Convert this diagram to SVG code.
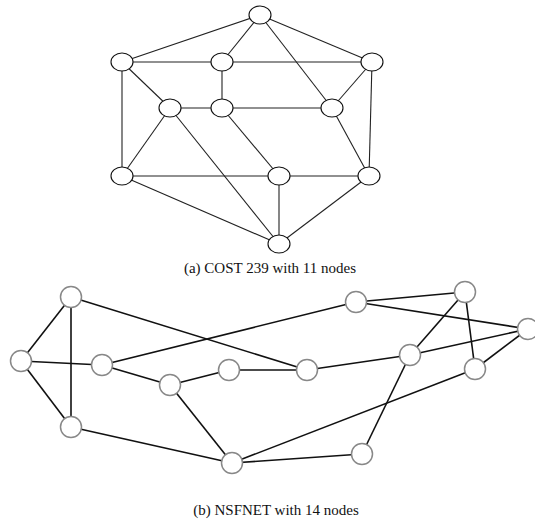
<svg xmlns="http://www.w3.org/2000/svg" width="535" height="523" viewBox="0 0 535 523">
<style>
.ea{stroke:#222;stroke-width:1.1;fill:none}
.na{fill:#fff;stroke:#111;stroke-width:1.1}
.eb{stroke:#111;stroke-width:1.6;fill:none}
.nb{fill:#fff;stroke:#888;stroke-width:1.5}
.cap{font-family:"Liberation Serif","Times New Roman",serif;font-size:15px;fill:#111;text-anchor:middle}
</style>
<rect width="535" height="523" fill="#fff"/>
<g id="edges-a">
<line class="ea" x1="260" y1="15" x2="122" y2="62"/>
<line class="ea" x1="260" y1="15" x2="222" y2="62"/>
<line class="ea" x1="260" y1="15" x2="372" y2="62"/>
<line class="ea" x1="260" y1="15" x2="332" y2="108"/>
<line class="ea" x1="122" y1="62" x2="222" y2="62"/>
<line class="ea" x1="222" y1="62" x2="372" y2="62"/>
<line class="ea" x1="122" y1="62" x2="170" y2="108"/>
<line class="ea" x1="122" y1="62" x2="122" y2="176"/>
<line class="ea" x1="222" y1="62" x2="222" y2="108"/>
<line class="ea" x1="372" y1="62" x2="332" y2="108"/>
<line class="ea" x1="372" y1="62" x2="369" y2="176"/>
<line class="ea" x1="170" y1="108" x2="222" y2="108"/>
<line class="ea" x1="222" y1="108" x2="332" y2="108"/>
<line class="ea" x1="170" y1="108" x2="122" y2="176"/>
<line class="ea" x1="170" y1="108" x2="279" y2="244"/>
<line class="ea" x1="222" y1="108" x2="279" y2="176"/>
<line class="ea" x1="332" y1="108" x2="369" y2="176"/>
<line class="ea" x1="122" y1="176" x2="279" y2="176"/>
<line class="ea" x1="279" y1="176" x2="369" y2="176"/>
<line class="ea" x1="122" y1="176" x2="279" y2="244"/>
<line class="ea" x1="279" y1="176" x2="279" y2="244"/>
<line class="ea" x1="369" y1="176" x2="279" y2="244"/>
</g>
<g id="a1"><ellipse class="na" cx="260" cy="15" rx="11" ry="9"/></g>
<g id="a2"><ellipse class="na" cx="122" cy="62" rx="11" ry="9"/></g>
<g id="a3"><ellipse class="na" cx="222" cy="62" rx="11" ry="9"/></g>
<g id="a4"><ellipse class="na" cx="372" cy="62" rx="11" ry="9"/></g>
<g id="a5"><ellipse class="na" cx="170" cy="108" rx="11" ry="9"/></g>
<g id="a6"><ellipse class="na" cx="222" cy="108" rx="11" ry="9"/></g>
<g id="a7"><ellipse class="na" cx="332" cy="108" rx="11" ry="9"/></g>
<g id="a8"><ellipse class="na" cx="122" cy="176" rx="11" ry="9"/></g>
<g id="a9"><ellipse class="na" cx="279" cy="176" rx="11" ry="9"/></g>
<g id="a10"><ellipse class="na" cx="369" cy="176" rx="11" ry="9"/></g>
<g id="a11"><ellipse class="na" cx="279" cy="244" rx="11" ry="9"/></g>
<text class="cap" x="270" y="273">(a) COST 239 with 11 nodes</text>
<g id="edges-b">
<line class="eb" x1="71" y1="297" x2="21" y2="361"/>
<line class="eb" x1="71" y1="297" x2="71" y2="427"/>
<line class="eb" x1="71" y1="297" x2="307" y2="370"/>
<line class="eb" x1="21" y1="361" x2="102" y2="365"/>
<line class="eb" x1="21" y1="361" x2="71" y2="427"/>
<line class="eb" x1="102" y1="365" x2="356" y2="302"/>
<line class="eb" x1="102" y1="365" x2="170" y2="385"/>
<line class="eb" x1="170" y1="385" x2="229" y2="370"/>
<line class="eb" x1="170" y1="385" x2="232" y2="463"/>
<line class="eb" x1="229" y1="370" x2="307" y2="370"/>
<line class="eb" x1="71" y1="427" x2="232" y2="463"/>
<line class="eb" x1="232" y1="463" x2="362" y2="454"/>
<line class="eb" x1="232" y1="463" x2="475" y2="369"/>
<line class="eb" x1="356" y1="302" x2="465" y2="292"/>
<line class="eb" x1="356" y1="302" x2="528" y2="329"/>
<line class="eb" x1="465" y1="292" x2="410" y2="355"/>
<line class="eb" x1="465" y1="292" x2="475" y2="369"/>
<line class="eb" x1="410" y1="355" x2="528" y2="329"/>
<line class="eb" x1="307" y1="370" x2="410" y2="355"/>
<line class="eb" x1="475" y1="369" x2="528" y2="329"/>
<line class="eb" x1="410" y1="355" x2="362" y2="454"/>
</g>
<g id="b1"><circle class="nb" cx="71" cy="297" r="10.5"/></g>
<g id="b2"><circle class="nb" cx="21" cy="361" r="10.5"/></g>
<g id="b3"><circle class="nb" cx="102" cy="365" r="10.5"/></g>
<g id="b4"><circle class="nb" cx="71" cy="427" r="10.5"/></g>
<g id="b5"><circle class="nb" cx="170" cy="385" r="10.5"/></g>
<g id="b6"><circle class="nb" cx="229" cy="370" r="10.5"/></g>
<g id="b7"><circle class="nb" cx="232" cy="463" r="10.5"/></g>
<g id="b8"><circle class="nb" cx="356" cy="302" r="10.5"/></g>
<g id="b9"><circle class="nb" cx="465" cy="292" r="10.5"/></g>
<g id="b10"><circle class="nb" cx="528" cy="329" r="10.5"/></g>
<g id="b11"><circle class="nb" cx="410" cy="355" r="10.5"/></g>
<g id="b12"><circle class="nb" cx="307" cy="370" r="10.5"/></g>
<g id="b13"><circle class="nb" cx="475" cy="369" r="10.5"/></g>
<g id="b14"><circle class="nb" cx="362" cy="454" r="10.5"/></g>
<text class="cap" x="276" y="515">(b) NSFNET with 14 nodes</text>
</svg>
